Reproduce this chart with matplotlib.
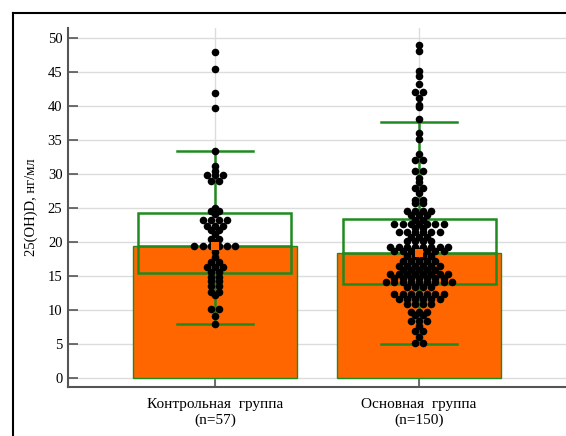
import numpy as np
import matplotlib
matplotlib.use("Agg")
import matplotlib.pyplot as plt
from matplotlib.lines import Line2D

plt.rcParams['font.family'] = ['Liberation Serif', 'DejaVu Serif']

categories = ["Контрольная  группа\n(n=57)", "Основная  группа\n(n=150)"]
means = [19.4, 18.4]
medians = [19.4, 18.4]
q1 = [15.4, 13.8]
q3 = [24.3, 23.4]
whisk_lo = [7.9, 5.0]
whisk_hi = [33.4, 37.6]

control = [48.0, 45.5, 41.9, 39.7, 33.4, 31.2, 30.5, 29.9, 29.9, 29.9, 28.9, 28.9,
           25.0, 24.6, 24.6, 24.1, 23.3, 23.3, 23.3, 23.3, 22.3, 22.3, 22.3,
           21.7, 21.7, 21.2, 20.5, 20.5, 20.0,
           19.4, 19.4, 19.4, 19.4, 19.4, 19.4,
           18.6, 17.8, 17.1, 17.1, 16.3, 16.3, 16.3, 15.6, 15.6, 14.9, 14.9,
           14.3, 14.3, 13.6, 13.6, 12.7, 12.7, 12.2, 10.2, 10.2, 9.1, 7.9]

main = [49.0, 48.1, 45.2, 44.4, 43.2, 42.1, 42.1, 41.2, 40.1, 39.8, 38.1, 36.0, 35.1,
        33.0, 32.1, 32.1, 30.4, 30.4, 29.4, 28.8, 28.0, 28.0, 27.2, 26.2, 26.2,
        25.7, 25.7, 24.5, 24.5, 24.5, 24.5, 24.0, 24.0, 24.0, 23.3, 23.3,
        22.6, 22.6, 22.6, 22.6, 22.6, 22.6, 22.6, 22.0, 22.0,
        21.4, 21.4, 21.4, 21.4, 21.4, 21.4, 20.8, 20.8, 20.8, 20.2, 20.2, 20.2, 20.2,
        19.3, 19.3, 19.3, 19.3, 19.3, 19.3, 19.3, 19.3,
        18.7, 18.7, 18.7, 18.7, 18.7, 18.7, 18.7,
        17.9, 17.9, 17.9, 17.9, 17.2, 17.2, 17.2, 17.2, 17.2,
        16.4, 16.4, 16.4, 16.4, 16.4, 16.4, 15.9, 15.9, 15.9, 15.9, 15.9,
        15.3, 15.3, 15.3, 15.3, 15.3, 15.3, 15.3, 15.3, 14.7, 14.7, 14.7, 14.7, 14.7, 14.7, 14.7,
        14.1, 14.1, 14.1, 14.1, 14.1, 14.1, 14.1, 14.1, 14.1, 13.4, 13.4, 13.4, 13.4,
        12.3, 12.3, 12.3, 12.3, 12.3, 12.3, 12.3, 11.6, 11.6, 11.6, 11.6, 11.6, 11.6,
        10.9, 10.9, 10.9, 10.9, 9.75, 9.75, 9.75, 9.2, 9.2, 8.4, 8.4, 8.4,
        7.7, 6.9, 6.9, 6.1, 5.1, 5.1]
groups = [control, main]

W, H = 566, 436
fig = plt.figure(figsize=(W / 100, H / 100), dpi=100)
ax_left, ax_right, ax_bottom, ax_top = 68, 566, 387, 28
ax = fig.add_axes([ax_left / W, 1 - ax_bottom / H, (ax_right - ax_left) / W, (ax_bottom - ax_top) / H])
ymin, ymax = -1.32, 51.47
xmin, xmax = -0.72, 1.72
ax.set_xlim(xmin, xmax)
ax.set_ylim(ymin, ymax)
px_x = (ax_right - ax_left) / (xmax - xmin)

green = "#1f8a1f"
orange = "#ff6600"
xs = np.arange(len(categories))

ax.bar(xs, means, width=0.8, color=orange, edgecolor=green, linewidth=1.0, zorder=2)

bw = 0.75
cw = 0.373
for i in range(len(xs)):
    x = xs[i]
    ax.add_patch(plt.Rectangle((x - bw / 2, q1[i]), bw, q3[i] - q1[i], fill=False,
                               edgecolor=green, linewidth=1.8, zorder=3))
    ax.plot([x - bw / 2, x + bw / 2], [medians[i]] * 2, color=green, lw=1.8, zorder=3)
    ax.plot([x, x], [q3[i], whisk_hi[i]], color=green, lw=1.8, zorder=3)
    ax.plot([x, x], [q1[i], whisk_lo[i]], color=green, lw=1.8, zorder=3)
    ax.plot([x - cw / 2, x + cw / 2], [whisk_hi[i]] * 2, color=green, lw=1.8, zorder=3)
    ax.plot([x - cw / 2, x + cw / 2], [whisk_lo[i]] * 2, color=green, lw=1.8, zorder=3)


def row_offsets(vals, step_px):
    vals = np.asarray(vals, float)
    out = np.zeros(len(vals))
    for v in np.unique(vals):
        idx = np.where(vals == v)[0]
        n = len(idx)
        out[idx] = (np.arange(n) - (n - 1) / 2) * step_px / px_x
    return out


for i, g in enumerate(groups):
    off = row_offsets(g, 8.2)
    ax.scatter(xs[i] + off, g, s=30, color="black", zorder=4, linewidths=0)
    ax.scatter([xs[i]], [means[i]], marker="s", s=34, color=orange, zorder=5, linewidths=0)

ax.set_yticks(np.arange(0, 51, 5))
ax.set_xticks(xs)
ax.set_xticklabels(categories, fontsize=11)
ax.tick_params(axis='y', direction='in', length=7, width=1.2, color='#555555', labelsize=10.5, pad=4)
ax.tick_params(axis='x', direction='in', length=6, width=1.2, color='#555555', pad=8)
ax.grid(True, color='#dcdcdc', linewidth=1.0, zorder=0)
ax.set_axisbelow(True)
for s in ['top', 'right']:
    ax.spines[s].set_visible(False)
for s in ['left', 'bottom']:
    ax.spines[s].set_color('#555555')
    ax.spines[s].set_linewidth(1.5)
ax.set_ylabel("25(OH)D, нг/мл", fontsize=10.5)
ax.yaxis.set_label_coords((38 - ax_left) / (ax_right - ax_left), 0.5)

fx = 12.5 / W
fy = 1 - 13.5 / H
fig.add_artist(Line2D([fx, fx], [fy, -0.1], transform=fig.transFigure, color='black', lw=1.5))
fig.add_artist(Line2D([fx, 1.1], [fy, fy], transform=fig.transFigure, color='black', lw=1.5))

fig.savefig("out.png", dpi=100)
